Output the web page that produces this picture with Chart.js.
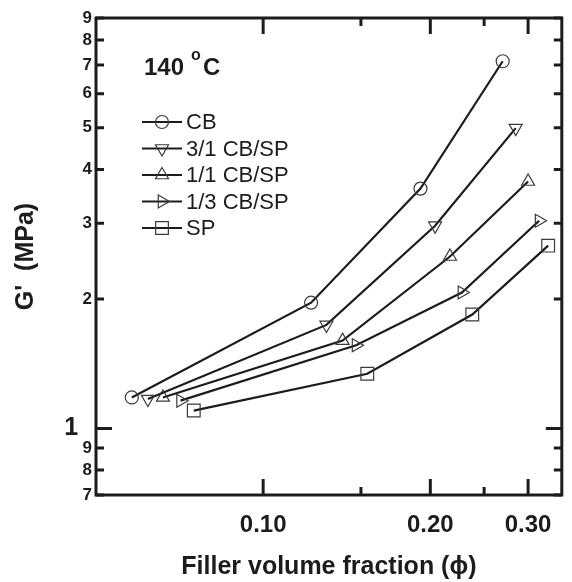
<!DOCTYPE html>
<html>
<head>
<meta charset="utf-8">
<script src="https://cdn.jsdelivr.net/npm/chart.js@4.4.1/dist/chart.umd.min.js"></script>
<style>
  html, body { margin: 0; padding: 0; background: #fff; }
  #c { display: block; }
</style>
</head>
<body>
<canvas id="c" width="572" height="582"></canvas>
<script>
// G' vs filler volume fraction, 140 C (log-log)
const seriesNames = ['CB', '3/1 CB/SP', '1/1 CB/SP', '1/3 CB/SP', 'SP'];

const phiCB = [0.058, 0.122, 0.192, 0.270];
const gCB = [1.18, 1.96, 3.61, 7.14];

const phi31 = [0.062, 0.130, 0.204, 0.285];
const g31 = [1.17, 1.74, 2.96, 4.99];

const phi11 = [0.066, 0.139, 0.217, 0.300];
const g11 = [1.18, 1.60, 2.51, 3.75];

const phi13 = [0.071, 0.147, 0.228, 0.314];
const g13 = [1.16, 1.56, 2.07, 3.04];

const phiSP = [0.075, 0.154, 0.238, 0.326];
const gSP = [1.10, 1.34, 1.84, 2.66];

const xTicks = [0.10, 0.15, 0.20, 0.25, 0.30];
const xTickLabels = ['0.10', '', '0.20', '', '0.30'];
const yTicks = [0.7, 0.8, 0.9, 1, 2, 3, 4, 5, 6, 7, 8, 9];
const yTickLabels = ['7', '8', '9', '1  ', '2', '3', '4', '5', '6', '7', '8', '9'];

const FONT = "'Liberation Sans', Arial, Helvetica, sans-serif";
const INK = '#1c1c1c';

function pts(xs, ys) {
    return xs.map((x, i) => ({ x: x, y: ys[i] }));
}

const markers = [
    { style: 'circle', radius: 6.5, rotation: 0 },
    { style: 'triangle', radius: 7.5, rotation: 180 },
    { style: 'triangle', radius: 7.5, rotation: 0 },
    { style: 'triangle', radius: 7.5, rotation: 90 },
    { style: 'rect', radius: 9, rotation: 0 }
];

const allData = [pts(phiCB, gCB), pts(phi31, g31), pts(phi11, g11), pts(phi13, g13), pts(phiSP, gSP)];

const datasets = allData.map((d, i) => ({
    label: seriesNames[i],
    data: d,
    borderColor: INK,
    borderWidth: 2.2,
    pointStyle: markers[i].style,
    pointRadius: markers[i].radius,
    pointRotation: markers[i].rotation,
    pointBorderColor: '#3a3a3a',
    pointBorderWidth: 1.2,
    pointBackgroundColor: 'rgba(0,0,0,0)',
    tension: 0
}));

// frame + inward ticks on all four sides
const framePlugin = {
    id: 'frame',
    afterDraw(chart) {
        const ctx = chart.ctx;
        const { left, right, top, bottom } = chart.chartArea;
        const xs = chart.scales.x, ys = chart.scales.y;
        ctx.save();
        ctx.strokeStyle = INK;
        ctx.lineWidth = 3;
        ctx.strokeRect(left, top, right - left, bottom - top);
        xTicks.forEach((v, i) => {
            const px = xs.getPixelForValue(v);
            const len = xTickLabels[i] ? 16 : 8;
            ctx.beginPath();
            ctx.moveTo(px, bottom); ctx.lineTo(px, bottom - len);
            ctx.moveTo(px, top); ctx.lineTo(px, top + len);
            ctx.stroke();
        });
        yTicks.forEach(v => {
            const py = ys.getPixelForValue(v);
            const len = v === 1 ? 16 : 8;
            ctx.beginPath();
            ctx.moveTo(left, py); ctx.lineTo(left + len, py);
            ctx.moveTo(right, py); ctx.lineTo(right - len, py);
            ctx.stroke();
        });
        ctx.restore();
    }
};

// legend with line through marker, and the temperature label
const notePlugin = {
    id: 'notes',
    afterDraw(chart) {
        const ctx = chart.ctx;
        ctx.save();
        ctx.fillStyle = INK;
        ctx.textBaseline = 'alphabetic';
        ctx.font = 'bold 24px ' + FONT;
        ctx.fillText('140', 144, 75);
        ctx.font = 'bold 16px ' + FONT;
        ctx.fillText('o', 191, 60);
        ctx.font = 'bold 24px ' + FONT;
        ctx.fillText('C', 203, 75);

        chart.data.datasets.forEach((ds, i) => {
            const y = 122 + i * 26.5;
            ctx.strokeStyle = INK;
            ctx.lineWidth = 2.2;
            ctx.beginPath();
            ctx.moveTo(142, y); ctx.lineTo(182, y);
            ctx.stroke();
            ctx.strokeStyle = '#3a3a3a';
            ctx.fillStyle = 'rgba(0,0,0,0)';
            ctx.lineWidth = 1.2;
            Chart.helpers.drawPoint(ctx, {
                pointStyle: ds.pointStyle,
                radius: ds.pointRadius,
                rotation: ds.pointRotation,
                borderWidth: 1.2
            }, 162, y);
            ctx.fillStyle = INK;
            ctx.font = '22px ' + FONT;
            ctx.textBaseline = 'middle';
            ctx.fillText(ds.label, 186, y + 1);
        });
        ctx.restore();
    }
};

new Chart(document.getElementById('c'), {
    type: 'line',
    data: { datasets: datasets },
    plugins: [framePlugin, notePlugin],
    options: {
        responsive: false,
        animation: false,
        devicePixelRatio: 1,
        layout: { padding: { left: 0, right: 3, top: 18, bottom: 0 } },
        plugins: {
            legend: { display: false },
            tooltip: { enabled: false }
        },
        scales: {
            x: {
                type: 'logarithmic',
                min: 0.05,
                max: 0.345,
                afterFit: s => { s.height = 87; },
                afterBuildTicks: s => { s.ticks = xTicks.map(v => ({ value: v })); },
                grid: { display: false, drawTicks: false },
                border: { display: false },
                ticks: {
                    autoSkip: false,
                    maxRotation: 0,
                    padding: 16,
                    color: INK,
                    font: { family: FONT, weight: 'bold', size: 24 },
                    callback: (v, i) => xTickLabels[i]
                },
                title: {
                    display: true,
                    text: 'Filler volume fraction (\u03D5)',
                    color: INK,
                    font: { family: FONT, weight: 'bold', size: 25 },
                    padding: { top: 0, bottom: 0 }
                }
            },
            y: {
                type: 'logarithmic',
                min: 0.7,
                max: 9,
                afterFit: s => { s.width = 96; },
                afterBuildTicks: s => { s.ticks = yTicks.map(v => ({ value: v })); },
                grid: { display: false, drawTicks: false },
                border: { display: false },
                ticks: {
                    autoSkip: false,
                    padding: 4,
                    color: INK,
                    font: ctx => ({ family: FONT, weight: 'bold', size: ctx.tick && ctx.tick.value === 1 ? 25 : 17 }),
                    callback: (v, i) => yTickLabels[i]
                },
                title: {
                    display: true,
                    text: "G'  (MPa)",
                    color: INK,
                    font: { family: FONT, weight: 'bold', size: 25 },
                    padding: { top: 11, bottom: 0 }
                }
            }
        }
    }
});
</script>
</body>
</html>
